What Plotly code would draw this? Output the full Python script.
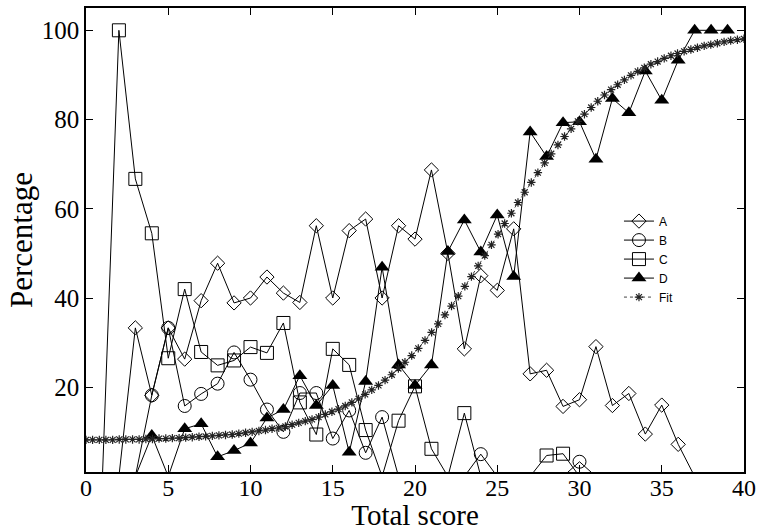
import plotly.graph_objects as go

# ---- data ----
score = list(range(0, 40))

series_A = [0, 0, 0, 33.3, 18.2, 33.3, 26.3, 39.4, 47.8, 38.9,
            40.0, 44.7, 41.1, 39.0, 56.2, 40.0, 55.1, 57.7, 40.0, 56.2,
            53.2, 68.7, 50.0, 28.6, 45.0, 41.7, 55.5, 23.0, 23.8, 15.7,
            17.2, 29.1, 15.9, 18.6, 9.5, 16.0, 7.2, 0, 0, 0]

series_B = [0, 0, 0, 0, 18.2, 33.3, 15.8, 18.5, 20.8, 27.8,
            21.7, 15.0, 10.0, 18.7, 18.7, 8.5, 14.8, 5.3, 13.3, 0,
            0, 0, 0, 0, 5.0, 0, 0, 0, 0, 0,
            3.3, 0, 0, 0, 0, 0, 0, 0, 0, 0]

series_C = [0, 0, 100, 66.7, 54.5, 26.5, 42.0, 27.9, 24.9, 26.0,
            29.0, 27.7, 34.4, 16.6, 9.4, 28.6, 25.0, 10.4, 0, 12.5,
            20.2, 6.2, 0, 14.2, 0, 0, 0, 0, 4.7, 5.1,
            0, 0, 0, 0, 0, 0, 0, 0, 0, 0]

series_D = [0, 0, 0, 0, 9.2, 0, 10.7, 11.8, 4.4, 5.8,
            7.5, 13.1, 15.0, 22.6, 15.9, 20.4, 5.4, 21.3, 46.9, 25.0,
            20.4, 25.0, 50.4, 57.5, 50.3, 58.6, 44.8, 77.2, 71.7, 79.3,
            79.5, 71.1, 84.7, 81.5, 90.9, 84.3, 93.3, 100, 100, 100]

fit_x = [0.00, 0.40, 0.81, 1.21, 1.62, 2.02, 2.42, 2.83, 3.23, 3.64,
         4.04, 4.44, 4.85, 5.25, 5.66, 6.06, 6.46, 6.87, 7.27, 7.68,
         8.08, 8.48, 8.89, 9.29, 9.70, 10.10, 10.51, 10.91, 11.31, 11.72,
         12.12, 12.53, 12.93, 13.33, 13.74, 14.14, 14.55, 14.95, 15.35, 15.76,
         16.16, 16.57, 16.97, 17.37, 17.78, 18.18, 18.59, 18.99, 19.39, 19.80,
         20.20, 20.61, 21.01, 21.41, 21.82, 22.22, 22.63, 23.03, 23.43, 23.84,
         24.24, 24.65, 25.05, 25.45, 25.86, 26.26, 26.67, 27.07, 27.47, 27.88,
         28.28, 28.69, 29.09, 29.49, 29.90, 30.30, 30.71, 31.11, 31.52, 31.92,
         32.32, 32.73, 33.13, 33.54, 33.94, 34.34, 34.75, 35.15, 35.56, 35.96,
         36.36, 36.77, 37.17, 37.58, 37.98, 38.38, 38.79, 39.19, 39.60, 40.00]

fit_y = [8.2, 8.2, 8.2, 8.2, 8.2, 8.3, 8.3, 8.3, 8.3, 8.4,
         8.4, 8.5, 8.5, 8.6, 8.6, 8.7, 8.8, 8.9, 9.0, 9.1,
         9.2, 9.3, 9.4, 9.6, 9.8, 10.0, 10.2, 10.4, 10.7, 10.9,
         11.2, 11.6, 12.0, 12.4, 12.8, 13.3, 13.9, 14.5, 15.1, 15.8,
         16.6, 17.4, 18.4, 19.4, 20.4, 21.6, 22.8, 24.2, 25.6, 27.1,
         28.7, 30.5, 32.3, 34.2, 36.2, 38.2, 40.4, 42.6, 44.8, 47.2,
         49.5, 51.9, 54.3, 56.7, 59.0, 61.4, 63.7, 65.9, 68.1, 70.3,
         72.3, 74.3, 76.2, 77.9, 79.6, 81.2, 82.7, 84.1, 85.5, 86.7,
         87.8, 88.9, 89.9, 90.8, 91.6, 92.4, 93.0, 93.7, 94.3, 94.8,
         95.3, 95.7, 96.1, 96.5, 96.8, 97.1, 97.4, 97.7, 97.9, 98.1]

x_ticks = [0, 5, 10, 15, 20, 25, 30, 35, 40]
y_ticks = [20, 40, 60, 80, 100]

# ---- figure ----
SERIF = "Liberation Serif, Times New Roman, serif"
SANS = "Liberation Sans, Arial, sans-serif"
Y_MIN, Y_MAX = 1, 105


def visible_points(values):
    # points below the y range are not drawn (as in the original plot)
    return [v if v >= Y_MIN else None for v in values]


fig = go.Figure()

line_style = dict(color="black", width=1)
specs = [("A", series_A, "diamond-open", 11),
         ("B", series_B, "circle-open", 13),
         ("C", series_C, "square-open", 13),
         ("D", series_D, "triangle-up", 13)]
for name, vals, sym, sz in specs:
    filled = not sym.endswith("open")
    mk = dict(symbol=sym, size=sz, color="black", opacity=1,
              line=dict(width=0 if filled else 1, color="black"))
    # connecting line through every value
    fig.add_trace(go.Scatter(x=score, y=vals, mode="lines", line=line_style,
                             showlegend=False, legendgroup=name, hoverinfo="skip"))
    # point symbols
    fig.add_trace(go.Scatter(x=score, y=visible_points(vals), mode="markers",
                             marker=mk, showlegend=False, legendgroup=name, name=name))
    # legend entry
    fig.add_trace(go.Scatter(x=[None], y=[None], mode="lines+markers", name=name,
                             line=line_style, marker=mk, legendgroup=name))

fit_mk = dict(symbol="asterisk-open", size=7, color="#222222", opacity=1,
              line=dict(width=1.2, color="#222222"))
fig.add_trace(go.Scatter(x=fit_x, y=fit_y, name="Fit", mode="lines+markers",
                         line=dict(color="#444444", width=1, dash="dot"),
                         marker=fit_mk))

fig.update_layout(
    width=764, height=531,
    margin=dict(l=86, r=20, t=8, b=59),
    paper_bgcolor="white", plot_bgcolor="white",
    showlegend=True,
    legend=dict(x=0.81, y=0.572, xanchor="left", yanchor="top",
                bgcolor="rgba(0,0,0,0)", borderwidth=0,
                font=dict(family=SANS, size=12, color="black"),
                tracegroupgap=0, itemwidth=30),
    font=dict(family=SERIF, color="black"),
)

fig.update_xaxes(range=[0, 40], tickvals=x_ticks, ticktext=[str(v) for v in x_ticks],
                 ticks="inside", ticklen=7, tickcolor="black", tickwidth=1,
                 showline=True, linecolor="black", linewidth=1.5, mirror="ticks",
                 showgrid=False, zeroline=False, ticklabelstandoff=-7,
                 tickfont=dict(family=SERIF, size=24, color="black"),
                 title=dict(text="Total score", font=dict(family=SERIF, size=29, color="black"),
                            standoff=11),
                 automargin=False)
fig.update_yaxes(range=[Y_MIN, Y_MAX], tickvals=y_ticks, ticktext=[str(v) for v in y_ticks],
                 ticks="inside", ticklen=7, tickcolor="black", tickwidth=1,
                 showline=True, linecolor="black", linewidth=1.5, mirror="ticks",
                 showgrid=False, zeroline=False,
                 tickfont=dict(family=SERIF, size=25, color="black"),
                 title=dict(text="Percentage", font=dict(family=SERIF, size=31, color="black"),
                            standoff=0),
                 automargin=False)

fig.write_html("out.html")
